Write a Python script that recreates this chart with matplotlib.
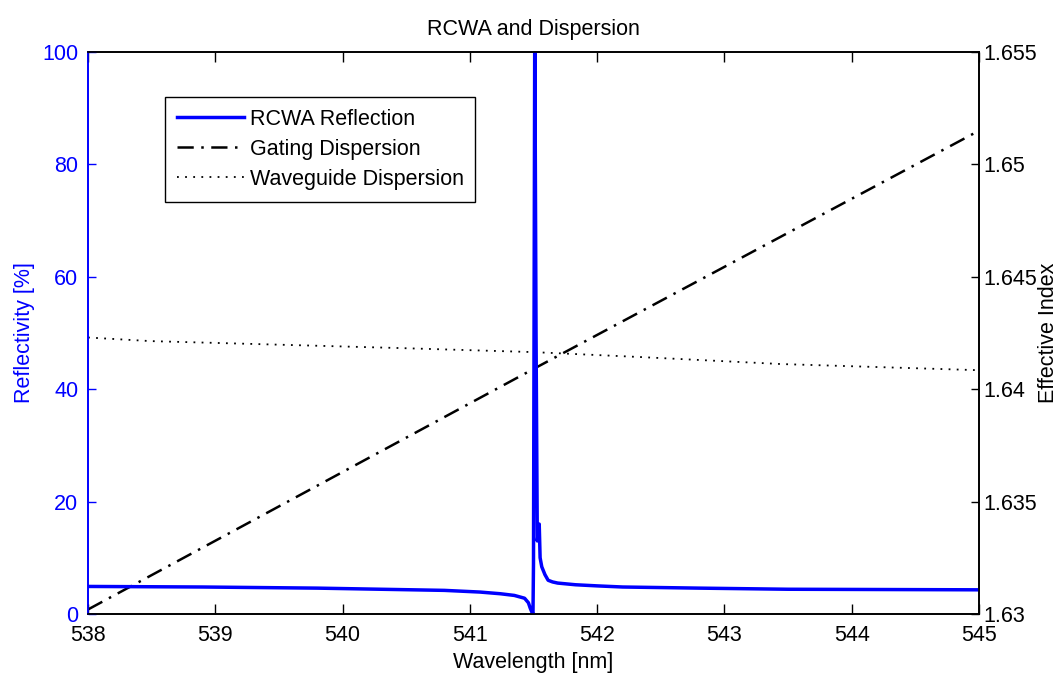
import matplotlib.pyplot as plt
import numpy as np

plt.rcParams['font.family'] = ['Liberation Sans', 'DejaVu Sans']
plt.rcParams['font.size'] = 15.5

# RCWA reflection spectrum
wl_rcwa = [538.0, 538.9, 539.8, 540.3, 540.8, 541.08, 541.24, 541.35, 541.43,
           541.46, 541.475, 541.488, 541.496, 541.500, 541.510, 541.520,
           541.530, 541.545, 541.552, 541.565, 541.59, 541.615, 541.65,
           541.69, 541.83, 542.0, 542.2, 542.8, 543.5, 545.0]
refl = [4.9, 4.8, 4.6, 4.4, 4.2, 3.9, 3.6, 3.3, 2.8,
        2.0, 1.0, 0.3, 0.0, 9.0, 105.0, 50.0,
        13.0, 16.0, 10.0, 8.4, 7.0, 6.0, 5.7,
        5.5, 5.2, 5.0, 4.8, 4.6, 4.4, 4.3]

# grating dispersion (effective index)
wl_grating = [538.0, 541.5, 545.0]
n_grating = [1.6302, 1.6409, 1.6515]

# waveguide dispersion (effective index)
wl_wg = [538.0, 538.49, 540.45, 541.5, 542.34, 543.44, 544.97, 545.0]
n_wg = [1.6423, 1.64214, 1.64183, 1.64165, 1.64143, 1.64112, 1.64085, 1.64084]

fig = plt.figure(figsize=(10.64, 6.73), dpi=100)
ax1 = fig.add_axes([0.0827, 0.0877, 0.8374, 0.835])
ax2 = ax1.twinx()

l1, = ax1.plot(wl_rcwa, refl, color='#0000ff', lw=2.5, label='RCWA Reflection')
l2, = ax2.plot(wl_grating, n_grating, color='black', lw=1.8,
               dashes=(6.5, 3, 1, 3), label='Gating Dispersion')
l3, = ax2.plot(wl_wg, n_wg, color='black', lw=1.3, dashes=(1, 3.5),
               label='Waveguide Dispersion')

ax1.set_xlim(538, 545)
ax1.set_ylim(0, 100)
ax2.set_ylim(1.63, 1.655)

ax1.set_xticks(range(538, 546))
ax1.set_yticks([0, 20, 40, 60, 80, 100])
ax2.set_yticks([1.63, 1.635, 1.64, 1.645, 1.65, 1.655])
ax2.set_yticklabels(['1.63', '1.635', '1.64', '1.645', '1.65', '1.655'])

ax1.tick_params(axis='x', direction='in', top=True, length=7, width=1,
                colors='black', pad=8)
ax1.tick_params(axis='y', direction='in', length=6, width=1, colors='#0000ff',
                pad=7)
ax2.tick_params(axis='y', direction='in', length=6, width=1, colors='black',
                pad=3)

for sp in ax1.spines.values():
    sp.set_linewidth(1.2)
for sp in ax2.spines.values():
    sp.set_linewidth(1.2)
ax1.spines['left'].set_color('#0000ff')
ax2.spines['left'].set_color('#0000ff')

ax1.set_xlabel('Wavelength [nm]', labelpad=4)
ax1.set_ylabel('Reflectivity [%]', color='#0000ff', labelpad=5)
ax2.set_ylabel('Effective Index', labelpad=1)
ax1.set_title('RCWA and Dispersion', fontsize=15.5, pad=12)

leg = ax1.legend(handles=[l1, l2, l3], loc='upper left',
                 bbox_to_anchor=(0.0864, 0.92), borderaxespad=0,
                 fancybox=False, framealpha=1, edgecolor='black',
                 handlelength=3.1, handletextpad=0.28, labelspacing=0.42,
                 borderpad=0.55)
leg.get_frame().set_linewidth(1.0)
ax1.set_zorder(ax2.get_zorder() + 1)
ax1.patch.set_visible(False)

fig.savefig('out.png', dpi=100)
